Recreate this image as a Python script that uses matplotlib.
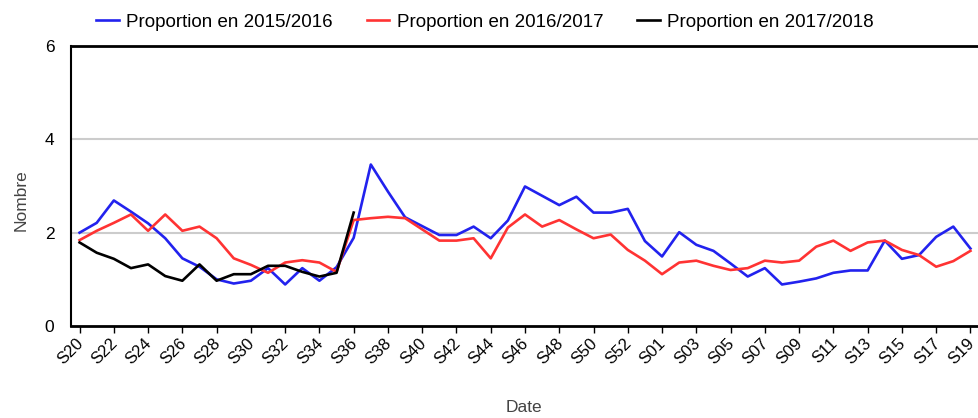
import matplotlib.pyplot as plt
import matplotlib.transforms as mtransforms
import numpy as np

# semaines S20..S53 puis S01..S19
weeks = [f"S{w:02d}" for w in range(20, 54)] + [f"S{w:02d}" for w in range(1, 20)]

prop_2015 = [2.00, 2.21, 2.69, 2.45, 2.20, 1.88, 1.45, 1.27, 1.00, 0.91,
             0.97, 1.24, 0.89, 1.24, 0.97, 1.26, 1.89, 3.46, 2.88, 2.33,
             2.14, 1.95, 1.95, 2.13, 1.88, 2.26, 2.99, 2.79, 2.59, 2.77,
             2.43, 2.43, 2.51, 1.82, 1.49, 2.01, 1.74, 1.61, 1.34, 1.06,
             1.24, 0.89, 0.95, 1.02, 1.14, 1.19, 1.19, 1.83, 1.44, 1.52,
             1.91, 2.13, 1.66]
prop_2016 = [1.84, 2.04, 2.21, 2.39, 2.04, 2.39, 2.04, 2.13, 1.88, 1.45,
             1.31, 1.14, 1.36, 1.41, 1.36, 1.16, 2.27, 2.31, 2.34, 2.31,
             2.07, 1.83, 1.83, 1.88, 1.45, 2.11, 2.39, 2.13, 2.27, 2.07,
             1.88, 1.96, 1.63, 1.40, 1.11, 1.36, 1.40, 1.29, 1.20, 1.24,
             1.40, 1.36, 1.40, 1.70, 1.83, 1.61, 1.79, 1.83, 1.63, 1.52,
             1.27, 1.39, 1.61]
prop_2017 = [1.79, 1.57, 1.44, 1.24, 1.32, 1.07, 0.97, 1.32, 0.97, 1.11,
             1.11, 1.29, 1.29, 1.16, 1.06, 1.14, 2.43]

labels = ["Proportion en 2015/2016", "Proportion en 2016/2017", "Proportion en 2017/2018"]
colors = ["#2222ee", "#ff3333", "#000000"]

plt.rcParams["font.family"] = ["Liberation Sans", "DejaVu Sans"]

fig = plt.figure(figsize=(9.79, 4.18), dpi=100)
ax = fig.add_axes([71 / 979, 92 / 418, 908 / 979, 280 / 418])

x = np.arange(len(weeks))
for vals, lab, col in zip([prop_2015, prop_2016, prop_2017], labels, colors):
    ax.plot(x[:len(vals)], vals, color=col, linewidth=1.9, label=lab)

ax.set_xlim(-0.5, len(weeks) - 0.5)
ax.set_ylim(0, 6)
ax.set_yticks([0, 2, 4, 6])
ax.tick_params(axis="y", length=0, labelsize=12.5, pad=12)
ax.set_xticks(x[::2], weeks[::2], rotation=45, fontsize=12)
ax.tick_params(axis="x", length=5, width=1, color="black", pad=2)
# petit décalage vers la gauche pour que S19 reste dans l'image
shift = mtransforms.ScaledTranslation(-4 / 100, 0, fig.dpi_scale_trans)
for lab in ax.get_xticklabels():
    lab.set_ha("right")
    lab.set_rotation_mode("anchor")
    lab.set_transform(lab.get_transform() + shift)

for v in [2, 4]:
    ax.axhline(v, color="#cccccc", linewidth=1.5, zorder=0)

ax.spines["right"].set_visible(False)
ax.spines["top"].set_linewidth(2)
ax.spines["bottom"].set_linewidth(2)
ax.spines["left"].set_linewidth(1.5)

ax.set_ylabel("Nombre", fontsize=12.5, color="#444444")
ax.yaxis.set_label_coords(-42 / 908, 0.45)
ax.set_xlabel("Date", fontsize=12.5, color="#444444")
ax.xaxis.set_label_coords((524 - 71) / 908, -74 / 280)

fig.legend(*ax.get_legend_handles_labels(), loc="center",
           bbox_to_anchor=(485 / 979, 1 - 22 / 418), ncol=3,
           frameon=False, fontsize=13.5, handlelength=1.2, columnspacing=1.8,
           handletextpad=0.4)

plt.savefig("out.png")
